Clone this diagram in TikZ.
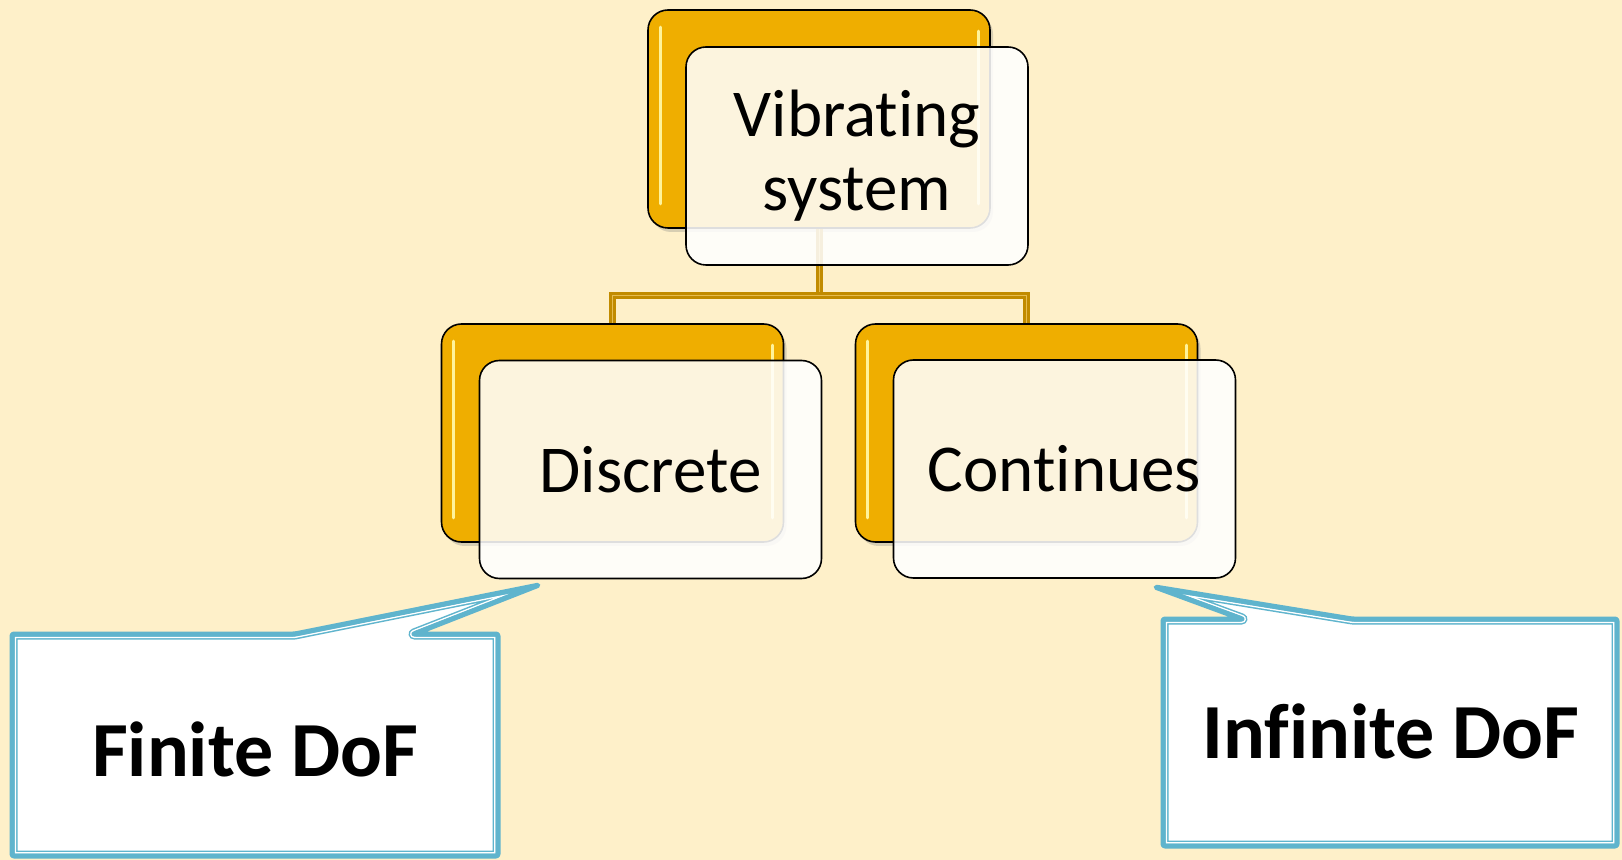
\documentclass[tikz,border=0pt]{standalone}
\usepackage{fontspec}
\setmainfont{Carlito}[Ligatures={NoCommon}]
\usetikzlibrary{shadows}
\definecolor{bg}{HTML}{FEF0C9}
\definecolor{gold}{HTML}{EFAE00}
\definecolor{golddark}{HTML}{C18B00}
\definecolor{goldlight}{HTML}{E6BC50}
\definecolor{hilite}{HTML}{FFF39A}
\definecolor{cblue}{HTML}{5FB4CD}
\begin{document}
\begin{tikzpicture}[x=0.5pt,y=-0.5pt,
  backbox/.style={draw=black, line width=0.8pt, fill=gold, rounded corners=10pt,
    minimum width=171pt, minimum height=109pt, inner sep=0pt,
    drop shadow={shadow xshift=1.5pt,shadow yshift=-2pt,opacity=0.3}},
  frontbox/.style={draw=black, line width=0.8pt, fill=white, fill opacity=0.87, text opacity=1,
    rounded corners=10pt, minimum width=171pt, minimum height=109pt, inner sep=0pt,
    font=\fontsize{33.5}{37}\selectfont, align=center},
  conn/.style={draw=golddark, line width=1.5pt, double=goldlight, double distance=0.5pt},
  hl/.style={draw=hilite, line width=1.5pt, line cap=round},
  calltext/.style={font=\fontsize{39}{44}\selectfont\bfseries},
  leftcall/.style={insert path={(L1) -- (L2) -- (LT) -- (L3) -- (L4) -- (L5) -- (L6) -- cycle}},
  rightcall/.style={insert path={(R1) -- (R2) -- (RT) -- (R3) -- (R4) -- (R5) -- (R6) -- cycle}},
  outerline/.style={draw=cblue, line width=2.5pt, line join=round, rounded corners=1pt}
]
\useasboundingbox (0,0) rectangle (1622,860);
\fill[bg] (0,0) rectangle (1622,860);

% back boxes
\node[backbox] (vb) at (819,119) {};
\node[backbox] (db) at (612.5,433) {};
\node[backbox] (cb) at (1026.5,433) {};

% connectors
\draw[conn] (vb.south) -- ++(0,67) coordinate (hub) -| (db.north);
\draw[conn] (hub) -| (cb.north);

% highlights on back boxes
\foreach \b in {vb,db,cb}{
  \draw[hl] ([xshift=6.5pt,yshift=-9pt]\b.north west) -- ([xshift=6.5pt,yshift=12.5pt]\b.south west);
  \draw[hl] ([xshift=-6pt,yshift=-11pt]\b.north east) -- ([xshift=-6pt,yshift=12.5pt]\b.south east);
}

% front boxes
\node[frontbox] (vf) at (857,156) {Vibrating\\system};
\node[frontbox] (df) at (650.5,469.5) {Discrete};
\node[frontbox] (cf) at (1064.5,469) {Continues};

% left callout
\coordinate (L1) at (12,634);
\coordinate (L2) at (295,634);
\coordinate (LT) at (539,585);
\coordinate (L3) at (414,634);
\coordinate (L4) at (498,634);
\coordinate (L5) at (498,856);
\coordinate (L6) at (12,856);
\fill[white, leftcall];
\begin{scope}
  \clip[leftcall];
  \draw[draw=cblue, line width=5.5pt, line join=round, leftcall];
  \draw[draw=white, line width=4pt, line join=round, leftcall];
  \draw[draw=cblue, line width=2.5pt, line join=round, leftcall];
\end{scope}
\draw[outerline, leftcall];
\node[calltext] (fin) at (255,749) {Finite DoF};

% right callout
\coordinate (R1) at (1163,619);
\coordinate (R2) at (1242,619);
\coordinate (RT) at (1155,587);
\coordinate (R3) at (1352,619);
\coordinate (R4) at (1617,619);
\coordinate (R5) at (1617,846);
\coordinate (R6) at (1163,846);
\fill[white, rightcall];
\begin{scope}
  \clip[rightcall];
  \draw[draw=cblue, line width=5.5pt, line join=round, rightcall];
  \draw[draw=white, line width=4pt, line join=round, rightcall];
  \draw[draw=cblue, line width=2.5pt, line join=round, rightcall];
\end{scope}
\draw[outerline, rightcall];
\node[calltext] (inf) at (1391,731) {Infinite DoF};
\end{tikzpicture}
\end{document}
